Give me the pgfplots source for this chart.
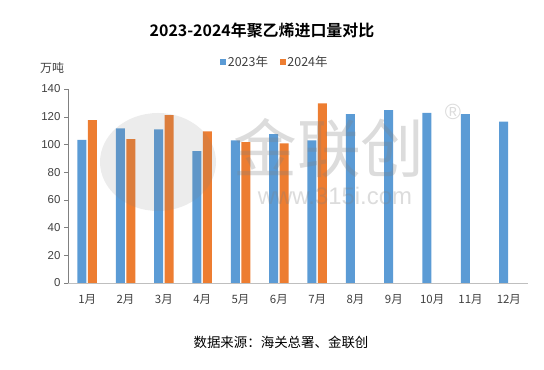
\documentclass[border=0pt]{standalone}
\usepackage{pgfplots}
\pgfplotsset{compat=1.18}
\usepackage{fontspec}
\setmainfont{Liberation Sans}
\newfontfamily\cjk{Noto Sans CJK SC}
\newfontfamily\cjkb{Noto Sans CJK SC Bold}
\definecolor{c23}{HTML}{5B9BD5}
\definecolor{c24}{HTML}{ED7D31}
\definecolor{axgray}{HTML}{BFBFBF}
\definecolor{txt}{HTML}{404040}
\begin{document}
\begin{tikzpicture}
\path[use as bounding box] (0,0) rectangle (544bp,370bp);
\begin{axis}[
  at={(68bp,87bp)}, anchor=south west,
  scale only axis, width=460bp, height=194bp,
  ybar=1.5bp, bar width=9bp,
  xmin=0.5, xmax=12.5, ymin=0, ymax=140,
  xtick={1,...,12},
  xticklabels={1月,2月,3月,4月,5月,6月,7月,8月,9月,10月,11月,12月},
  x tick label style={font=\cjk\fontsize{11.5}{12}\selectfont, text=txt, yshift=-4bp},
  ytick={0,20,...,140},
  y tick label style={font=\fontsize{11.5}{12}\selectfont, text=txt},
  /pgf/number format/assume math mode=true,
  axis x line*=bottom, axis y line*=left,
  x axis line style={draw=axgray, -}, y axis line style={draw=gray, -},
  major x tick style={draw=none},
  major y tick style={draw=gray}, tick align=outside, major tick length=4bp,
  enlargelimits=false, clip=false,
  legend style={at={(0.45,1.139)}, anchor=center, draw=none, fill=none,
    font=\cjk\fontsize{12.5}{13}\selectfont, text=txt, legend columns=2,
    /tikz/every even column/.append style={column sep=10bp}},
  legend image code/.code={\fill[#1] (0bp,-2.5bp) rectangle (5.5bp,3bp);},
]
\addplot[fill=c23, draw=none] coordinates {(1,103.2) (2,111.6) (3,110.9) (4,95.2) (5,102.9) (6,107.5) (7,103.0) (8,121.9) (9,124.8) (10,122.7) (11,121.9) (12,116.4)};
\addplot[fill=c24, draw=none] coordinates {(1,117.6) (2,103.9) (3,121.2) (4,109.4) (5,101.7) (6,100.8) (7,129.6)};
\legend{2023年,2024年}
\end{axis}
% watermark
\fill[gray, opacity=0.15] (158bp,208bp) ellipse [x radius=58bp, y radius=49bp];
\node[text=gray, opacity=0.28, font=\cjk\fontsize{64}{64}\selectfont, inner sep=0] at (329bp,222bp) {金联创};
\node[text=gray, opacity=0.28, font=\fontsize{24}{24}\selectfont, inner sep=0] at (335bp,174bp) {www.315i.com};
\node[text=gray, opacity=0.28, font=\fontsize{22}{22}\selectfont, inner sep=0] at (453bp,258bp) {®};
% texts
\node[font=\cjkb\fontsize{16}{16}\selectfont, inner sep=0] at (262bp,340bp) {2023-2024年聚乙烯进口量对比};
\node[font=\cjk\fontsize{12}{12}\selectfont, text=txt, inner sep=0] at (52bp,302bp) {万吨};
\node[font=\cjk\fontsize{13.5}{14}\selectfont, text=black, inner sep=0] at (281bp,28bp) {数据来源：海关总署、金联创};
\end{tikzpicture}
\end{document}
